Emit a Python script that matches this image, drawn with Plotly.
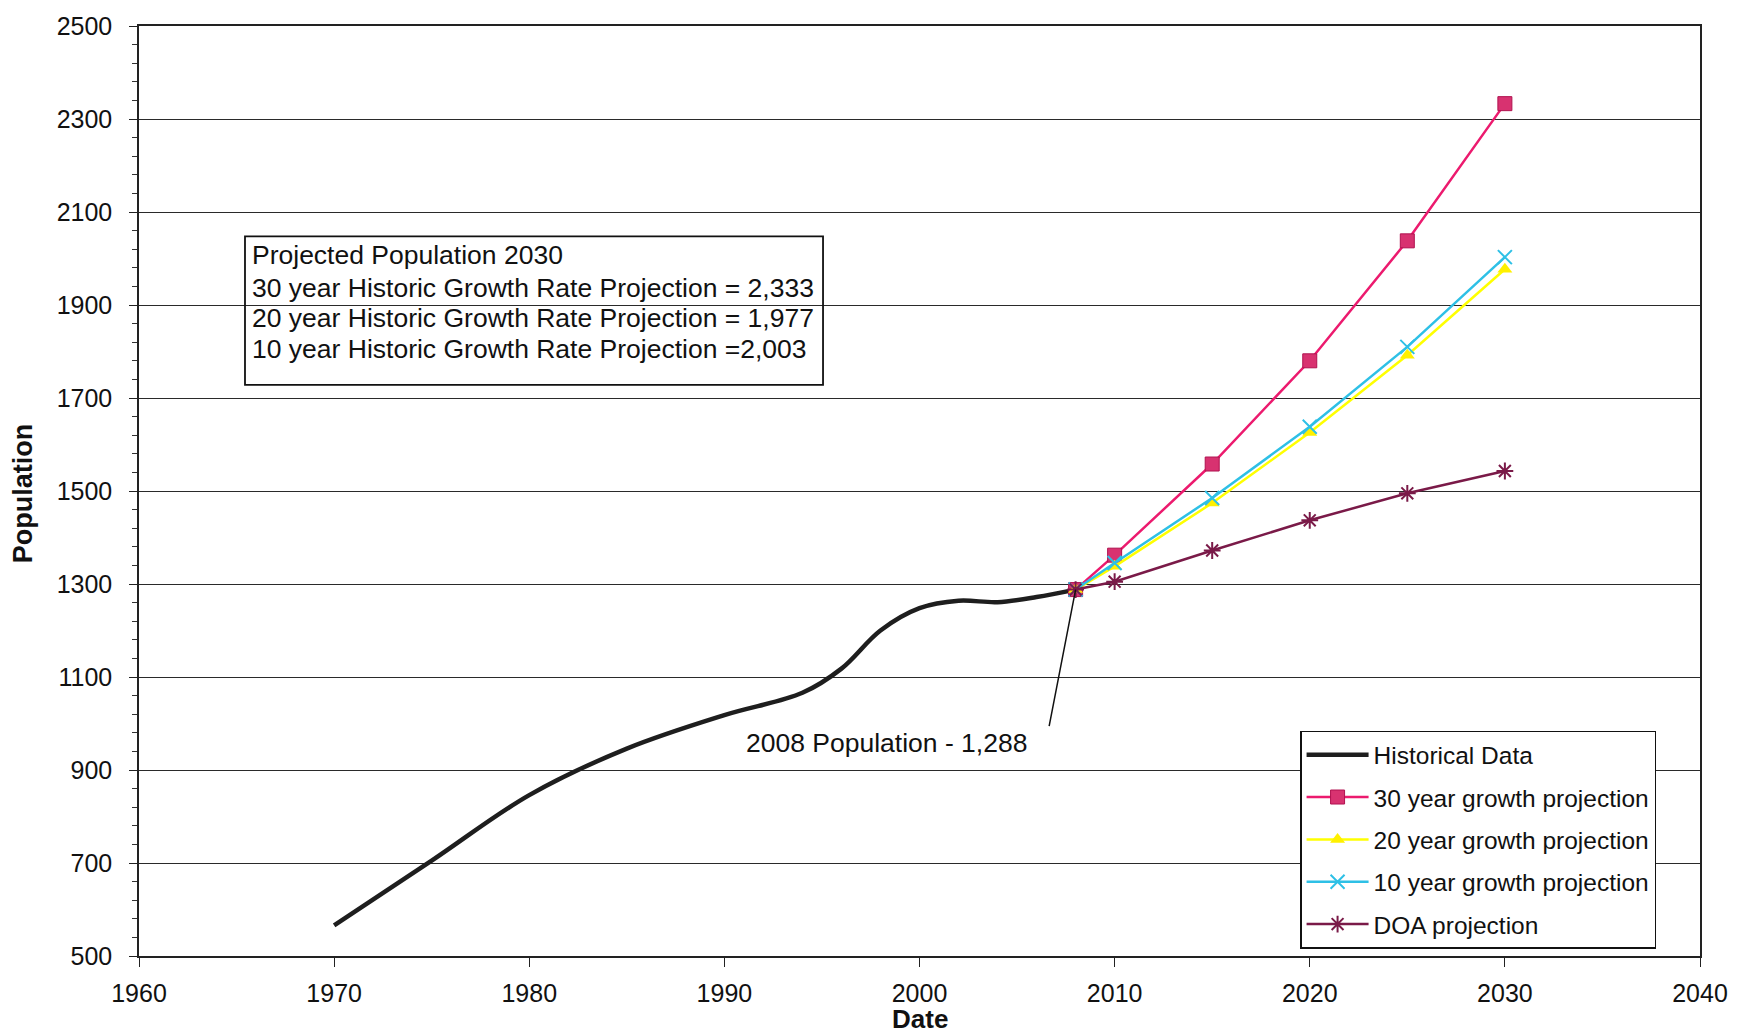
import plotly.graph_objects as go

# Historical population
hist_years = [1970, 1975, 1980, 1985, 1990, 1994, 1996, 1998, 2000, 2002, 2004, 2006, 2008]
hist_pop = [566, 705, 846, 946, 1018, 1066, 1118, 1200, 1248, 1264, 1261, 1272, 1288]

# Projections starting from the 2008 population
proj_years = [2008, 2010, 2015, 2020, 2025, 2030]
proj_30yr = [1288, 1362, 1558, 1780, 2038, 2333]
proj_20yr = [1288, 1338, 1474, 1626, 1792, 1977]
proj_10yr = [1288, 1345, 1485, 1638, 1810, 2003]
proj_doa = [1288, 1305, 1372, 1437, 1495, 1543]

x_ticks = [1960, 1970, 1980, 1990, 2000, 2010, 2020, 2030, 2040]
y_ticks = [500, 700, 900, 1100, 1300, 1500, 1700, 1900, 2100, 2300, 2500]

summary_lines = [
    "Projected Population 2030",
    "30 year Historic Growth Rate Projection = 2,333",
    "20 year Historic Growth Rate Projection = 1,977",
    "10 year Historic Growth Rate Projection =2,003",
]

FONT = "Arial, Liberation Sans, sans-serif"

fig = go.Figure()

fig.add_trace(go.Scatter(
    x=hist_years, y=hist_pop, mode="lines", name="Historical Data",
    line=dict(color="#1e1e1e", width=4.5, shape="spline", smoothing=1.0),
    legendgroup="g1",
))
fig.add_trace(go.Scatter(
    x=proj_years, y=proj_30yr, mode="lines+markers", name="30 year growth projection",
    line=dict(color="#EC1A6E", width=2.5),
    marker=dict(symbol="square", size=14, color="#D83270",
                line=dict(color="#B0124F", width=1)),
    legendgroup="g2",
))
fig.add_trace(go.Scatter(
    x=proj_years, y=proj_20yr, mode="lines+markers", name="20 year growth projection",
    line=dict(color="#FFFF00", width=2.5),
    marker=dict(symbol="triangle-up", size=13, color="#FFF000"),
    legendgroup="g3",
))
fig.add_trace(go.Scatter(
    x=proj_years, y=proj_10yr, mode="lines+markers", name="10 year growth projection",
    line=dict(color="#2EC0E6", width=2.5),
    marker=dict(symbol="x-thin", size=14, color="#2EC0E6",
                line=dict(color="#2EC0E6", width=2)),
    legendgroup="g4",
))
fig.add_trace(go.Scatter(
    x=proj_years, y=proj_doa, mode="lines+markers", name="DOA projection",
    line=dict(color="#7A1A48", width=2.5),
    marker=dict(symbol="asterisk", size=14, color="#7A1A48",
                line=dict(color="#7A1A48", width=2)),
    legendgroup="g5",
))

annotations = []
# leader line from the label to the 2008 value
annotations.append(dict(
    x=2008, y=1288, xref="x", yref="y", text="", showarrow=True,
    ax=2006.63, ay=991, axref="x", ayref="y",
    arrowhead=0, arrowwidth=1.5, arrowcolor="#111", standoff=0, startstandoff=0,
))
annotations.append(dict(
    x=1998.3, y=959, xref="x", yref="y", text="2008 Population - 1,288",
    showarrow=False, font=dict(family=FONT, size=26.5, color="#111"),
    xanchor="center", yanchor="middle",
))
line_y = [0.7535, 0.7181, 0.686, 0.6527]
for txt, yy in zip(summary_lines, line_y):
    annotations.append(dict(
        x=0.0712, y=yy, xref="paper", yref="paper", text=txt, showarrow=False,
        font=dict(family=FONT, size=26.5, color="#111"),
        xanchor="left", yanchor="middle",
    ))
# axis titles
annotations.append(dict(
    x=-0.0746, y=0.497, xref="paper", yref="paper", text="<b>Population</b>",
    textangle=-90, showarrow=False, font=dict(family=FONT, size=27, color="#111"),
    xanchor="center", yanchor="middle",
))
annotations.append(dict(
    x=0.5, y=-0.068, xref="paper", yref="paper", text="<b>Date</b>",
    showarrow=False, font=dict(family=FONT, size=26, color="#111"),
    xanchor="center", yanchor="middle",
))

fig.update_layout(
    width=1740, height=1035,
    margin=dict(l=139, r=40, t=23, b=79),
    paper_bgcolor="white", plot_bgcolor="white",
    font=dict(family=FONT, color="#111"),
    showlegend=True,
    legend=dict(
        x=0.7438, y=0.2422, xanchor="left", yanchor="top",
        bgcolor="white", bordercolor="#111", borderwidth=1.5,
        font=dict(family=FONT, size=24.5, color="#111"),
        tracegroupgap=7.5, itemwidth=62,
    ),
    annotations=annotations,
    shapes=[dict(
        type="rect", xref="paper", yref="paper",
        x0=0.0679, x1=0.4382, y0=0.6141, y1=0.7738,
        line=dict(color="#111", width=1.8), fillcolor="rgba(0,0,0,0)",
    )],
    xaxis=dict(
        range=[1960, 2040], tickvals=x_ticks, ticktext=[str(v) for v in x_ticks],
        showgrid=False, zeroline=False,
        showline=True, linecolor="#222", linewidth=1.5, mirror=True,
        ticks="outside", ticklen=9, tickwidth=1.2, tickcolor="#222",
        tickfont=dict(family=FONT, size=25, color="#111"),
        ticklabelstandoff=5,
    ),
    yaxis=dict(
        range=[500, 2500], tickvals=y_ticks, ticktext=[str(v) for v in y_ticks],
        showgrid=True, gridcolor="#2a2a2a", gridwidth=1.4, zeroline=False,
        showline=True, linecolor="#222", linewidth=1.5, mirror=True,
        ticks="outside", ticklen=8, tickwidth=1.3, tickcolor="#222",
        tickfont=dict(family=FONT, size=25, color="#111"),
        ticklabelstandoff=12,
        minor=dict(dtick=40, tick0=500, ticks="outside", ticklen=5,
                   tickwidth=1.2, tickcolor="#333", showgrid=False),
    ),
    yaxis2=dict(
        range=[500, 2500], overlaying="y", side="left", showgrid=False,
        zeroline=False, showline=False, showticklabels=False,
        tickvals=y_ticks, ticks="inside", ticklen=5, tickwidth=1.2, tickcolor="#333",
        minor=dict(dtick=40, tick0=500, ticks="inside", ticklen=5,
                   tickwidth=1.2, tickcolor="#333", showgrid=False),
    ),
)

fig.write_html("out.html")
